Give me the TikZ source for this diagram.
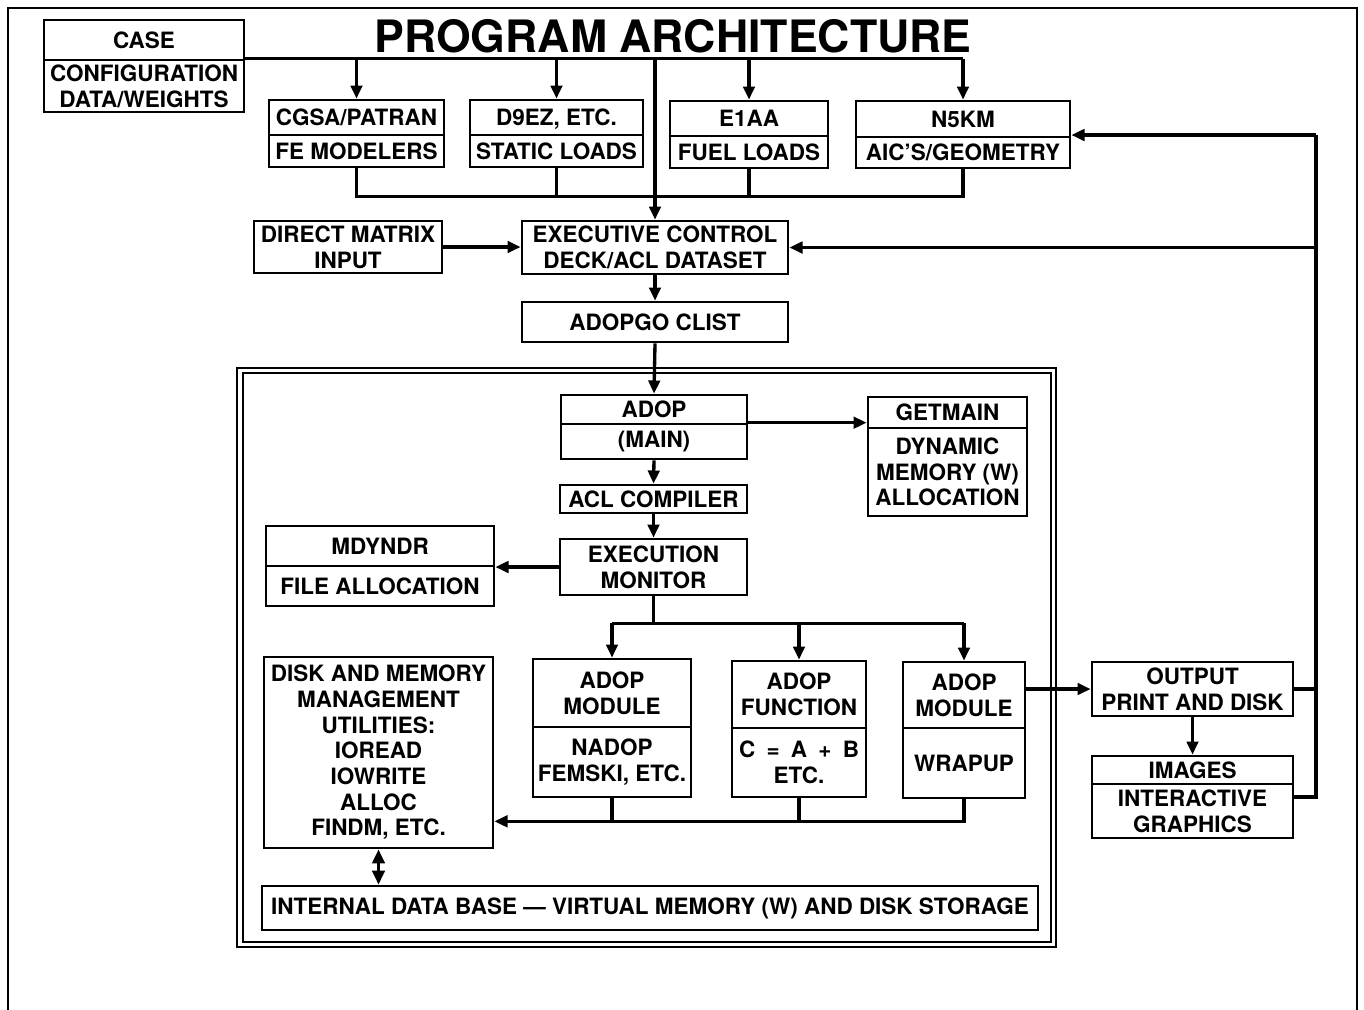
\documentclass[tikz,border=0pt]{standalone}
\usepackage{fontspec}
\setmainfont{TeX Gyre Heros}
\usetikzlibrary{arrows.meta}

% box given by its pixel corners: name, x1, y1, x2, y2, text
\newcommand{\blkbox}[6]{%
  \node[blk, minimum width={(#4-#2)*0.02cm}, minimum height={(#5-#3)*0.02cm}]
    (#1) at ({(#2+#4)/2},{(#3+#5)/2}) {#6};}

\begin{document}
\begin{tikzpicture}[x=0.02cm, y=-0.02cm,
  blk/.style={draw, line width=1.5pt, align=center, inner sep=0pt,
              font=\bfseries\fontsize{12.8}{14.6}\selectfont},
  wire/.style={line width=1.9pt},
  arr/.style={wire, -{Triangle[length=7.5pt,width=6.5pt]}},
  dblarr/.style={wire, {Triangle[length=8pt,width=7pt]}-{Triangle[length=8pt,width=7pt]}}]
  \useasboundingbox (0,0) rectangle (1364,1009);
  \draw[line width=1pt] (8,1015) -- (8,8) -- (1357,8) -- (1357,1015);
  \node[font=\bfseries\fontsize{25.4}{30}\selectfont] (title) at (673,36) {PROGRAM ARCHITECTURE};

  % top row
  \blkbox{case}{44}{20}{244}{60}{CASE}
  \blkbox{casecfg}{44}{60}{244}{112}{CONFIGURATION\\DATA/WEIGHTS}
  \blkbox{cgsa}{269}{100}{444}{135}{CGSA/PATRAN}
  \blkbox{cgsab}{269}{135}{444}{167}{FE MODELERS}
  \blkbox{d9ez}{470}{100}{643}{135}{D9EZ\smash{,} ETC.}
  \blkbox{d9ezb}{470}{135}{643}{167}{STATIC LOADS}
  \blkbox{e1aa}{670}{101}{828}{136}{E1AA}
  \blkbox{e1aab}{670}{136}{828}{168}{FUEL LOADS}
  \blkbox{n5km}{856}{101}{1070}{137}{N5KM}
  \blkbox{n5kmb}{856}{137}{1070}{168}{AIC'S/GEOMETRY}

  \blkbox{direct}{254}{221}{442}{273}{DIRECT MATRIX\\INPUT}
  \blkbox{exec}{522}{221}{788}{274}{EXECUTIVE CONTROL\\DECK/ACL DATASET}
  \blkbox{adopgo}{522}{302}{788}{342}{ADOPGO CLIST}

  % inner frame
  \draw[line width=1.3pt] (237,368) rectangle (1056,947);
  \draw[line width=0.8pt] (243,373) rectangle (1051,942);

  \blkbox{adop}{561}{395}{747}{424}{ADOP}
  \blkbox{adopb}{561}{424}{747}{459}{(MAIN)}
  \blkbox{getmain}{868}{397}{1027}{428}{GETMAIN}
  \blkbox{getmainb}{868}{428}{1027}{516}{DYNAMIC\\MEMORY (W)\\ALLOCATION}
  \blkbox{acl}{560}{485}{747}{513}{ACL COMPILER}
  \blkbox{monitor}{560}{539}{747}{595}{EXECUTION\\MONITOR}
  \blkbox{mdyndr}{266}{526}{494}{566}{MDYNDR}
  \blkbox{mdyndrb}{266}{566}{494}{606}{FILE ALLOCATION}
  \blkbox{mod}{533}{659}{691}{727}{ADOP\\MODULE}
  \blkbox{modb}{533}{727}{691}{797}{NADOP\\FEMSKI, ETC.}
  \blkbox{func}{732}{661}{866}{728}{ADOP\\FUNCTION}
  \blkbox{funcb}{732}{728}{866}{797}{C\enspace=\enspace A\enspace+\enspace B\\ETC.}
  \blkbox{wrap}{903}{662}{1025}{728}{ADOP\\MODULE}
  \blkbox{wrapb}{903}{728}{1025}{798}{WRAPUP}
  \blkbox{disk}{264}{657}{493}{848}{DISK AND MEMORY\\MANAGEMENT\\UTILITIES:\\IOREAD\\IOWRITE\\ALLOC\\FINDM, ETC.}
  \blkbox{idb}{262}{886}{1038}{930}{INTERNAL DATA BASE --- VIRTUAL MEMORY (W) AND DISK STORAGE}

  \blkbox{output}{1092}{662}{1293}{716}{OUTPUT\\PRINT AND DISK}
  \blkbox{img}{1092}{756}{1293}{784}{IMAGES}
  \blkbox{imgb}{1092}{784}{1293}{838}{INTERACTIVE\\GRAPHICS}

  % input bus
  \draw[wire] (casecfg.north east) -- (casecfg.north east -| n5km.north);
  \foreach \b in {cgsa,d9ez,e1aa,n5km}
    \draw[arr] (casecfg.north east -| \b.north) -- (\b.north);
  \draw[arr] (casecfg.north east -| exec.north) -- (exec.north);
  \draw[wire] (cgsab.south) -- ++(0,28) -| (n5kmb.south);
  \draw[wire] (d9ezb.south) -- ++(0,28);
  \draw[wire] (e1aab.south) -- ++(0,27);
  \draw[arr] (direct.east) -- (direct.east -| exec.west);

  % feedback from output
  \coordinate (rt) at (1316,135);
  \coordinate (rb) at (1316,797);
  \draw[wire] (rt) -- (rb) -- (rb -| imgb.east);
  \draw[wire] (output.east) -- (output.east -| rt);
  \draw[arr] (rt) -- (rt -| n5km.east);
  \draw[arr] (rt |- exec.east) -- (exec.east);

  % main chain
  \draw[arr] (exec.south) -- (adopgo.north);
  \draw[arr] (adopgo.south) -- (adop.north);
  \draw[arr] (adopb.north east) -- (adopb.north east -| getmain.west);
  \draw[arr] (adopb.south) -- (acl.north);
  \draw[arr] (acl.south) -- (monitor.north);
  \draw[arr] (monitor.west) -- (monitor.west -| mdyndrb.east);
  \draw[wire] (monitor.south) -- ++(0,27) coordinate (mj);
  \draw[wire] (mj -| mod.north) -- (mj -| wrap.north);
  \foreach \b in {mod,func,wrap}
    \draw[arr] (mj -| \b.north) -- (\b.north);
  \draw[arr] (wrapb.south) -- ++(0,22) coordinate (bj) -- (bj -| disk.east);
  \draw[wire] (modb.south) -- (modb.south |- bj);
  \draw[wire] (funcb.south) -- (funcb.south |- bj);
  \draw[dblarr] (disk.south) -- (disk.south |- idb.north);
  \draw[arr] (output.west -| wrap.east) -- (output.west);
  \draw[arr] (output.south) -- (img.north);
\end{tikzpicture}
\end{document}
